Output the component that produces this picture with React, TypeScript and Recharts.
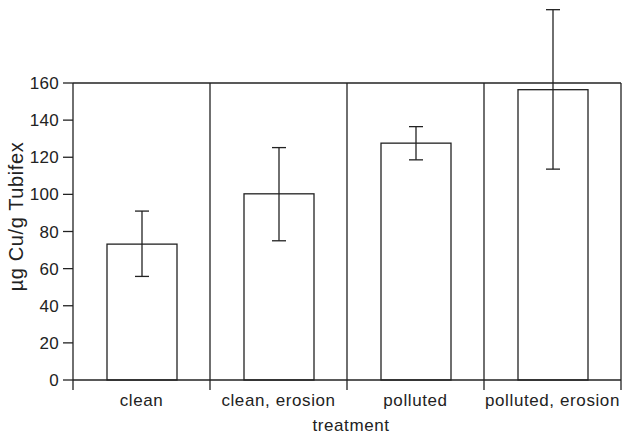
import React from "react"
import { BarChart, Bar, XAxis, YAxis, ReferenceLine, Label } from "recharts"

// copper in Tubifex per treatment
const treatments = ["clean", "clean, erosion", "polluted", "polluted, erosion"]
const meanCu = [73.2, 100.3, 127.6, 156.4]
const errLow = [55.8, 75.0, 118.6, 113.6]
const errHigh = [91.0, 125.2, 136.5, 199.5]
const yTicks = [0, 20, 40, 60, 80, 100, 120, 140, 160]

const data = treatments.map((name, i) => ({
  name,
  cu: meanCu[i],
  lo: errLow[i],
  hi: errHigh[i],
}))

const INK = "#222"
const FONT = '"Liberation Sans", Arial, Helvetica, sans-serif'

// bar outline + error bar; whiskers are placed with the bar's own pixels-per-unit
const BarWithError = (props: any) => {
  const { x, y, width, height, payload } = props
  const base = y + height
  const perUnit = height / payload.cu
  const cx = x + width / 2
  const yHi = base - payload.hi * perUnit
  const yLo = base - payload.lo * perUnit
  const cap = 7
  return (
    <g>
      <rect x={x} y={y} width={width} height={height} fill="#fff" stroke={INK} strokeWidth={1.3} />
      <line x1={cx} x2={cx} y1={yHi} y2={yLo} stroke={INK} strokeWidth={1.3} />
      <line x1={cx - cap} x2={cx + cap} y1={yHi} y2={yHi} stroke={INK} strokeWidth={1.3} />
      <line x1={cx - cap} x2={cx + cap} y1={yLo} y2={yLo} stroke={INK} strokeWidth={1.3} />
    </g>
  )
}

// category label with tick marks at the band edges
const CategoryTick = (props: any) => {
  const { x, y, payload, index } = props
  const half = payload.offset ?? 0
  const last = index === treatments.length - 1
  return (
    <g>
      <line x1={x - half} x2={x - half} y1={y} y2={y + 10} stroke={INK} strokeWidth={1.3} />
      {last && <line x1={x + half} x2={x + half} y1={y} y2={y + 10} stroke={INK} strokeWidth={1.3} />}
      <text x={x} y={y + 26} textAnchor="middle" fill={INK} fontSize={17} letterSpacing={0.6} fontFamily={FONT}>
        {payload.value}
      </text>
    </g>
  )
}

export default function App() {
  return (
    <div style={{ position: "absolute", left: 0, top: 0, width: 622, height: 435, background: "#fff" }}>
      <BarChart width={622} height={435} data={data} margin={{ top: 83, right: 1, bottom: 0, left: 0 }}>
        <XAxis
          dataKey="name"
          height={55}
          interval={0}
          tickLine={false}
          tickSize={0}
          tickMargin={0}
          axisLine={{ stroke: INK, strokeWidth: 1.3 }}
          tick={<CategoryTick />}
        >
          <Label
            content={({ viewBox }: any) => (
              <text
                x={viewBox.x + viewBox.width / 2 + 4}
                y={viewBox.y + 51}
                textAnchor="middle"
                fill={INK}
                fontSize={17}
                letterSpacing={0.6}
                fontFamily={FONT}
              >
                treatment
              </text>
            )}
          />
        </XAxis>
        <YAxis
          width={73}
          domain={[0, 160]}
          ticks={yTicks}
          interval={0}
          tickSize={10}
          tickMargin={4}
          tickLine={{ stroke: INK, strokeWidth: 1.3 }}
          axisLine={{ stroke: INK, strokeWidth: 1.3 }}
          tick={{ fill: INK, fontSize: 17, fontFamily: FONT, letterSpacing: 0.3 }}
        >
          <Label
            content={({ viewBox }: any) => (
              <text
                transform={`translate(${viewBox.x + 16},${viewBox.y + viewBox.height / 2 - 15}) rotate(-90)`}
                textAnchor="middle"
                dominantBaseline="central"
                fill={INK}
                fontSize={20}
                letterSpacing={0.6}
                fontFamily={FONT}
              >
                µg Cu/g Tubifex
              </text>
            )}
          />
        </YAxis>
        <ReferenceLine y={160} stroke={INK} strokeWidth={1.3} />
        {treatments.slice(1).map((t) => (
          <ReferenceLine key={t} x={t} position="start" stroke={INK} strokeWidth={1.3} />
        ))}
        <ReferenceLine x={treatments[treatments.length - 1]} position="end" stroke={INK} strokeWidth={1.3} />
        <Bar dataKey="cu" barSize={70} shape={<BarWithError />} isAnimationActive={false} />
      </BarChart>
    </div>
  )
}
